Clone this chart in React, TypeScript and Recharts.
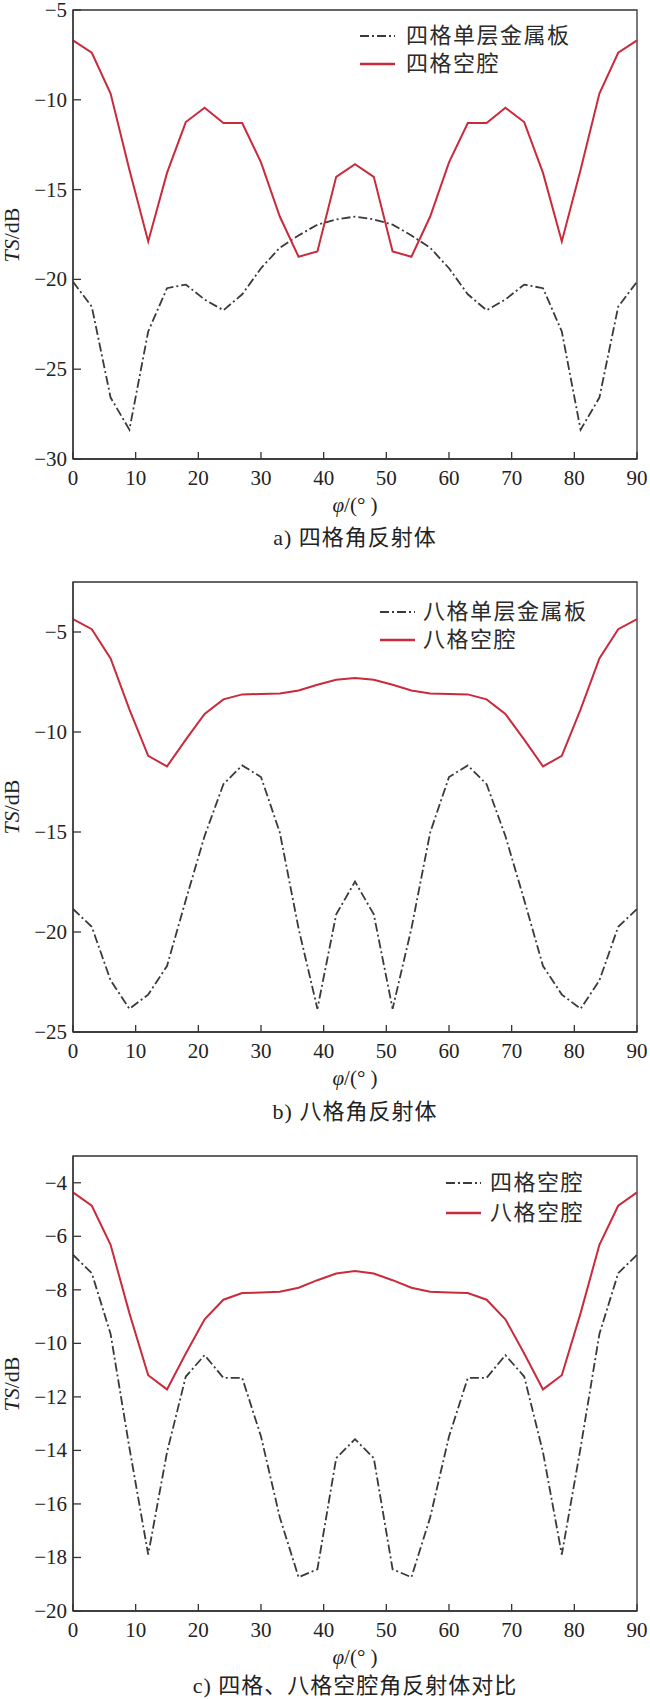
import React from 'react';
import { LineChart, Line, XAxis, YAxis, ReferenceArea } from 'recharts';

const angles = [0, 3, 6, 9, 12, 15, 18, 21, 24, 27, 30, 33, 36, 39, 42, 45, 48, 51, 54, 57, 60, 63, 66, 69, 72, 75, 78, 81, 84, 87, 90];

const fourPlate = [-20.13, -21.52, -26.58, -28.37, -22.9, -20.49, -20.29, -21.12, -21.72, -20.83, -19.38, -18.24, -17.55, -16.95, -16.66, -16.5, -16.66, -16.95, -17.55, -18.24, -19.38, -20.83, -21.72, -21.12, -20.29, -20.49, -22.9, -28.37, -26.58, -21.52, -20.13];
const fourCavity = [-6.69, -7.38, -9.65, -13.9, -17.89, -14.07, -11.24, -10.44, -11.29, -11.29, -13.48, -16.5, -18.74, -18.44, -14.29, -13.58, -14.29, -18.44, -18.74, -16.5, -13.48, -11.29, -11.29, -10.44, -11.24, -14.07, -17.89, -13.9, -9.65, -7.38, -6.69];
const eightPlate = [-18.85, -19.74, -22.42, -23.84, -23.13, -21.7, -18.4, -15.2, -12.61, -11.67, -12.25, -15.02, -19.83, -23.84, -19.12, -17.48, -19.12, -23.84, -19.83, -15.02, -12.25, -11.67, -12.61, -15.2, -18.4, -21.7, -23.13, -23.84, -22.42, -19.74, -18.85];
const eightCavity = [-4.36, -4.86, -6.32, -8.87, -11.19, -11.72, -10.38, -9.1, -8.37, -8.12, -8.1, -8.07, -7.92, -7.64, -7.39, -7.3, -7.39, -7.64, -7.92, -8.07, -8.1, -8.12, -8.37, -9.1, -10.38, -11.72, -11.19, -8.87, -6.32, -4.86, -4.36];

const xTicks = [0, 10, 20, 30, 40, 50, 60, 70, 80, 90];
const yTicksA = [-30, -25, -20, -15, -10, -5];
const yTicksB = [-25, -20, -15, -10, -5];
const yTicksC = [-20, -18, -16, -14, -12, -10, -8, -6, -4];

const legendA = ['四格单层金属板', '四格空腔'];
const legendB = ['八格单层金属板', '八格空腔'];
const legendC = ['四格空腔', '八格空腔'];

const captionA = 'a) 四格角反射体';
const captionB = 'b) 八格角反射体';
const captionC = 'c) 四格、八格空腔角反射体对比';

const RED = '#c92a3c';
const DARK = '#3a3a3a';
const AXIS = '#333333';
const SERIF = "'Liberation Serif', 'Times New Roman', 'DejaVu Serif', serif";
const CJK = "'Liberation Serif', 'Noto Sans CJK SC', serif";

const fmt = (v: number) => (v < 0 ? `\u2212${Math.abs(v)}` : `${v}`);

function XTick(props: any) {
  const { x, y, payload } = props;
  return (
    <g>
      <line x1={x} x2={x} y1={y} y2={y - 7} stroke={AXIS} strokeWidth={1.3} />
      <text x={x} y={y + 19} textAnchor="middle" dominantBaseline="central" style={{ fontFamily: SERIF, fontSize: 21 }} fill="#222">
        {payload.value}
      </text>
    </g>
  );
}

function YTick(props: any) {
  const { x, y, payload } = props;
  return (
    <g>
      <line x1={x} x2={x + 8} y1={y} y2={y} stroke={AXIS} strokeWidth={1.3} />
      <text x={x - 6} y={y} textAnchor="end" dominantBaseline="central" style={{ fontFamily: SERIF, fontSize: 21 }} fill="#222">
        {fmt(payload.value)}
      </text>
    </g>
  );
}

type PanelProps = {
  top: number;
  height: number;
  marginTop: number;
  marginBottom: number;
  domain: [number, number];
  yTicks: number[];
  dashed: number[];
  solid: number[];
  legend: string[];
  legendLineX: number;
  legendTextX: number;
  legendRowY: [number, number];
  caption: string;
  captionOffset: number;
};

function Panel(p: PanelProps) {
  const data = angles.map((a, i) => ({ angle: a, dashed: p.dashed[i], solid: p.solid[i] }));
  const plotTop = p.marginTop;
  const plotBottom = p.height - p.marginBottom - 30;
  const plotMidY = (plotTop + plotBottom) / 2;
  const plotMidX = (73 + 637) / 2;
  return (
    <div style={{ position: 'absolute', left: 0, top: p.top, width: 650, height: p.height }}>
      <LineChart
        width={650}
        height={p.height}
        data={data}
        margin={{ top: p.marginTop, right: 13, bottom: p.marginBottom, left: 0 }}
      >
        <XAxis
          dataKey="angle"
          type="number"
          domain={[0, 90]}
          ticks={xTicks}
          height={30}
          tickSize={0}
          tickMargin={0}
          tick={<XTick />}
          axisLine={{ stroke: AXIS, strokeWidth: 1.3 }}
          interval={0}
        />
        <YAxis
          type="number"
          domain={p.domain}
          ticks={p.yTicks}
          width={73}
          tickSize={0}
          tickMargin={0}
          tick={<YTick />}
          axisLine={{ stroke: AXIS, strokeWidth: 1.3 }}
          interval={0}
          allowDataOverflow
        />
        <ReferenceArea
          x1={0}
          x2={90}
          y1={p.domain[0]}
          y2={p.domain[1]}
          fill="none"
          fillOpacity={0}
          stroke={AXIS}
          strokeWidth={1.3}
          ifOverflow="visible"
        />
        <Line
          type="linear"
          dataKey="dashed"
          stroke={DARK}
          strokeWidth={1.8}
          strokeDasharray="9 3 2 3"
          dot={false}
          isAnimationActive={false}
        />
        <Line
          type="linear"
          dataKey="solid"
          stroke={RED}
          strokeWidth={2}
          dot={false}
          isAnimationActive={false}
        />
      </LineChart>

      {p.legend.map((label, i) => (
        <div key={label} style={{ position: 'absolute', left: 0, top: p.legendRowY[i] - 14, height: 28, width: 650 }}>
          <svg style={{ position: 'absolute', left: p.legendLineX, top: 0 }} width={36} height={28}>
            <line
              x1={0}
              x2={35}
              y1={14}
              y2={14}
              stroke={i === 0 ? DARK : RED}
              strokeWidth={i === 0 ? 1.8 : 2.6}
              strokeDasharray={i === 0 ? '9 3 2 3' : undefined}
            />
          </svg>
          <div
            style={{
              position: 'absolute',
              left: p.legendTextX,
              top: 0,
              lineHeight: '28px',
              fontSize: 22,
              letterSpacing: 1.5,
              fontFamily: CJK,
              color: '#2a2a2a',
              whiteSpace: 'nowrap',
            }}
          >
            {label}
          </div>
        </div>
      ))}

      <div
        style={{
          position: 'absolute',
          left: 12 - 60,
          top: plotMidY - 11,
          width: 120,
          height: 22,
          lineHeight: '22px',
          textAlign: 'center',
          transform: 'rotate(-90deg)',
          fontSize: 22,
          fontFamily: SERIF,
          color: '#222',
          whiteSpace: 'nowrap',
        }}
      >
        <i>TS</i>/dB
      </div>

      <div
        style={{
          position: 'absolute',
          left: plotMidX - 60,
          top: plotBottom + 46 - 13,
          width: 120,
          height: 26,
          lineHeight: '26px',
          textAlign: 'center',
          fontSize: 21,
          fontFamily: SERIF,
          color: '#222',
          whiteSpace: 'nowrap',
        }}
      >
        <i>φ</i>/(° )
      </div>

      <div
        style={{
          position: 'absolute',
          left: plotMidX - 250,
          top: plotBottom + p.captionOffset - 14,
          width: 500,
          height: 28,
          lineHeight: '28px',
          textAlign: 'center',
          fontSize: 22,
          letterSpacing: 1,
          fontFamily: CJK,
          color: '#222',
          whiteSpace: 'nowrap',
        }}
      >
        {p.caption}
      </div>
    </div>
  );
}

export default function App() {
  return (
    <div style={{ position: 'absolute', left: 0, top: 0, width: 650, height: 1699, background: '#fff', overflow: 'hidden' }}>
      <Panel
        top={0}
        height={560}
        marginTop={10}
        marginBottom={71}
        domain={[-30, -5]}
        yTicks={yTicksA}
        dashed={fourPlate}
        solid={fourCavity}
        legend={legendA}
        legendLineX={360}
        legendTextX={406}
        legendRowY={[36, 64]}
        caption={captionA}
        captionOffset={79}
      />
      <Panel
        top={560}
        height={575}
        marginTop={22}
        marginBottom={73}
        domain={[-25, -2.5]}
        yTicks={yTicksB}
        dashed={eightPlate}
        solid={eightCavity}
        legend={legendB}
        legendLineX={380}
        legendTextX={423}
        legendRowY={[52, 80]}
        caption={captionB}
        captionOffset={80}
      />
      <Panel
        top={1135}
        height={564}
        marginTop={21}
        marginBottom={58}
        domain={[-20, -3]}
        yTicks={yTicksC}
        dashed={fourCavity}
        solid={eightCavity}
        legend={legendC}
        legendLineX={446}
        legendTextX={490}
        legendRowY={[48, 78]}
        caption={captionC}
        captionOffset={75}
      />
    </div>
  );
}
